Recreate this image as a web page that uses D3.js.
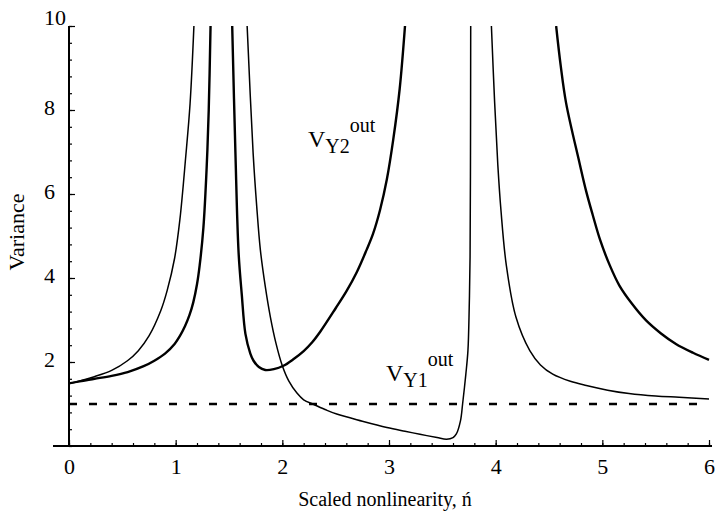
<!DOCTYPE html>
<html>
<head>
<meta charset="utf-8">
<script src="https://cdn.jsdelivr.net/npm/d3@7"></script>
<style>
html,body{margin:0;padding:0;background:#fff;}
svg{display:block;font-family:"Liberation Serif","Times New Roman",serif;}
</style>
</head>
<body>
<svg id="chart" width="720" height="519"></svg>
<script>
// ---- data ----
const xTicks = [0, 1, 2, 3, 4, 5, 6];
const yTicks = [2, 4, 6, 8, 10];
const xLabel = "Scaled nonlinearity, ń";
const yLabel = "Variance";

// V_Y2^out (thick curve), three branches separated by poles
const y2A_n = [0, 0.1, 0.24, 0.4, 0.55, 0.7, 0.8, 0.9, 0.99, 1.04, 1.087, 1.13, 1.165, 1.20, 1.225, 1.26, 1.29, 1.31, 1.327];
const y2A_v = [1.49, 1.54, 1.60, 1.67, 1.76, 1.90, 2.03, 2.20, 2.43, 2.62, 2.85, 3.12, 3.42, 3.85, 4.30, 5.20, 6.60, 8.00, 10];
const y2B_n = [1.53, 1.56, 1.59, 1.62, 1.654, 1.70, 1.73, 1.78, 1.84, 1.92, 2.01, 2.1, 2.2, 2.28, 2.355, 2.5, 2.6, 2.7, 2.79, 2.85, 2.916, 2.98, 3.04, 3.10, 3.15];
const y2B_v = [10, 7.0, 4.6, 3.6, 2.67, 2.2, 2.03, 1.88, 1.81, 1.83, 1.91, 2.06, 2.26, 2.47, 2.72, 3.28, 3.68, 4.15, 4.67, 5.05, 5.62, 6.35, 7.3, 8.5, 10];
const y2C_n = [4.567, 4.61, 4.66, 4.785, 4.85, 4.91, 4.98, 5.07, 5.16, 5.28, 5.41, 5.55, 5.69, 5.85, 6.0];
const y2C_v = [10, 9.05, 8.17, 6.75, 6.05, 5.5, 4.9, 4.3, 3.82, 3.38, 2.99, 2.68, 2.43, 2.22, 2.05];

// V_Y1^out (thin curve), three branches
const y1A_n = [0, 0.1, 0.237, 0.4, 0.548, 0.65, 0.75, 0.86, 0.92, 0.99, 1.04, 1.093, 1.135, 1.171];
const y1A_v = [1.49, 1.55, 1.65, 1.80, 2.03, 2.27, 2.62, 3.22, 3.70, 4.47, 5.4, 6.85, 8.15, 10];
const y1B_n = [1.67, 1.726, 1.76, 1.794, 1.84, 1.888, 1.94, 2.0, 2.06, 2.137, 2.2, 2.293, 2.4, 2.51, 2.75, 2.98, 3.15, 3.29, 3.45, 3.54, 3.60, 3.63, 3.67, 3.69, 3.72, 3.74, 3.752, 3.760, 3.764, 3.766];
const y1B_v = [10, 6.98, 5.7, 4.67, 3.8, 3.07, 2.45, 1.91, 1.55, 1.26, 1.10, 0.99, 0.87, 0.76, 0.59, 0.44, 0.35, 0.28, 0.2, 0.16, 0.2, 0.28, 0.6, 1.0, 1.7, 2.27, 3.3, 4.5, 7, 10];
const y1C_n = [3.96, 3.99, 4.02, 4.05, 4.10, 4.19, 4.32, 4.42, 4.535, 4.7, 4.85, 5.05, 5.25, 5.5, 5.72, 6.0];
const y1C_v = [10, 8.2, 6.7, 5.6, 4.3, 3.07, 2.27, 1.93, 1.71, 1.54, 1.44, 1.33, 1.25, 1.19, 1.16, 1.12];

// dashed reference line
const ref_n = [0, 6];
const ref_v = [1, 1];

// ---- drawing ----
const svg = d3.select("#chart");
const x = d3.scaleLinear().domain([0, 6]).range([69, 709]);
const y = d3.scaleLinear().domain([0, 10]).range([446, 26]);

svg.append("defs").append("clipPath").attr("id", "plot")
  .append("rect").attr("x", 60).attr("y", y(10)).attr("width", 660).attr("height", y(0) - y(10));

const zip = (ns, vs) => ns.map((n, i) => [n, vs[i]]);
const line = d3.line().x(d => x(d[0])).y(d => y(d[1])).curve(d3.curveCatmullRom.alpha(0.5));

const g = svg.append("g").attr("clip-path", "url(#plot)");

// dashed line
g.append("path").datum(zip(ref_n, ref_v)).attr("d", d3.line().x(d => x(d[0])).y(d => y(d[1])))
  .attr("fill", "none").attr("stroke", "#000").attr("stroke-width", 2.4)
  .attr("stroke-dasharray", "8,12");

// thin curve V_Y1
[[y1A_n, y1A_v], [y1B_n, y1B_v], [y1C_n, y1C_v]].forEach(([ns, vs]) => {
  g.append("path").datum(zip(ns, vs)).attr("d", line)
    .attr("fill", "none").attr("stroke", "#000").attr("stroke-width", 1.5);
});
// thick curve V_Y2
[[y2A_n, y2A_v], [y2B_n, y2B_v], [y2C_n, y2C_v]].forEach(([ns, vs]) => {
  g.append("path").datum(zip(ns, vs)).attr("d", line)
    .attr("fill", "none").attr("stroke", "#000").attr("stroke-width", 2.4);
});

// axes
const axG = svg.append("g").attr("font-family", "Liberation Serif");

// x axis
const xMinor = d3.range(0, 6.0001, 0.2);
const xAxMinor = d3.axisBottom(x).tickValues(xMinor).tickSizeInner(-3).tickSizeOuter(0).tickFormat("");
const xAx = d3.axisBottom(x).tickValues(xTicks).tickSizeInner(-6).tickSizeOuter(0).tickPadding(12).tickFormat(d3.format("d"));
const gxm = axG.append("g").attr("transform", `translate(0,${y(0)})`).call(xAxMinor);
const gx = axG.append("g").attr("transform", `translate(0,${y(0)})`).call(xAx);
[gxm, gx].forEach(s => s.select(".domain").remove());
gx.selectAll("text").attr("font-size", 22).attr("font-family", "Liberation Serif").attr("fill", "#000");

// y axis
const yMinor = d3.range(0, 10.0001, 0.4);
const yAxMinor = d3.axisLeft(y).tickValues(yMinor).tickSizeInner(-3).tickSizeOuter(0).tickFormat("");
const yAx = d3.axisLeft(y).tickValues(yTicks).tickSizeInner(-6).tickSizeOuter(0).tickPadding(14).tickFormat(d3.format("d"));
const gym = axG.append("g").attr("transform", `translate(${x(0)},0)`).call(yAxMinor);
const gy = axG.append("g").attr("transform", `translate(${x(0)},0)`).call(yAx);
[gym, gy].forEach(s => s.select(".domain").remove());
gy.selectAll("text").attr("font-size", 22).attr("font-family", "Liberation Serif").attr("fill", "#000").attr("dy", "0.2em");
// the top label sits raised, against the axis corner
gy.selectAll(".tick").filter(d => d === 10).select("text").attr("x", -3).attr("dy", "-0.05em");
axG.selectAll(".tick line").attr("stroke", "#000").attr("stroke-width", 1.2);

// axis lines
axG.append("line").attr("x1", 53).attr("x2", 712).attr("y1", y(0)).attr("y2", y(0))
  .attr("stroke", "#000").attr("stroke-width", 2);
axG.append("line").attr("x1", x(0)).attr("x2", x(0)).attr("y1", y(0)).attr("y2", y(10))
  .attr("stroke", "#000").attr("stroke-width", 2);

// axis titles
svg.append("text").attr("x", 385).attr("y", 506).attr("text-anchor", "middle")
  .attr("font-size", 20).text(xLabel);
svg.append("text").attr("transform", "translate(24,232) rotate(-90)").attr("text-anchor", "middle")
  .attr("font-size", 22).text(yLabel);

// curve annotations
function annot(px, py, sub) {
  const t = svg.append("text").attr("x", px).attr("y", py).attr("font-size", 24);
  t.append("tspan").text("V");
  t.append("tspan").attr("font-size", 20).attr("dy", 6).text(sub);
  t.append("tspan").attr("font-size", 20).attr("dy", -21).text("out");
}
annot(308, 147, "Y2");
annot(386, 381, "Y1");
</script>
</body>
</html>
